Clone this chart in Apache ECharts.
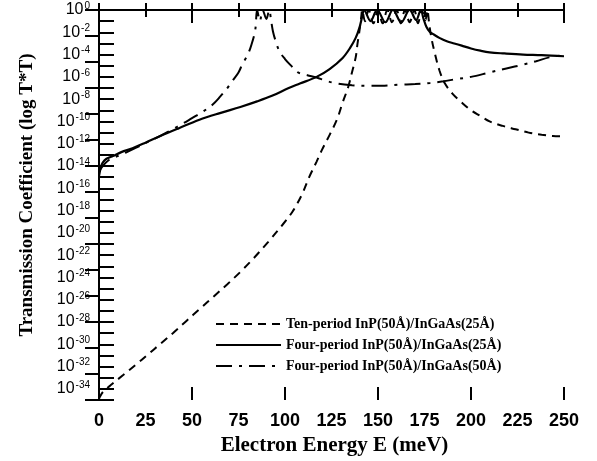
<!DOCTYPE html>
<html><head><meta charset="utf-8">
<script src="https://cdn.jsdelivr.net/npm/echarts@6/dist/echarts.min.js"></script>
<style>html,body{margin:0;padding:0;background:#fff}#c{width:597px;height:461px}</style>
</head><body><div id="c"></div>
<script>
// Energies (meV) and log10(T*T) values
const tenE = [0, 0.5, 2, 6, 13, 20, 26, 33, 40, 47, 54, 62, 69, 76, 83, 91, 99, 104, 109, 113, 117, 120, 124, 128, 131, 134, 136, 138, 139, 140, 141, 141.5, 143, 145, 147.5, 150, 152.5, 155, 157.5, 160, 162.3, 164.5, 167, 169.5, 171.5, 173.5, 175.5, 176.5, 177.5, 178.5, 180, 183, 186, 190, 195, 200, 205, 210, 217, 224, 231, 238, 244, 250];
const tenT = [-34.9, -34.7, -34.3, -33.7, -32.75, -31.8, -30.95, -29.95, -28.95, -27.9, -26.85, -25.65, -24.6, -23.5, -22.3, -20.8, -19.2, -18.1, -16.6, -15.0, -13.6, -12.5, -11.2, -9.8, -8.3, -6.9, -5.6, -4.25, -3.0, -1.9, -0.6, 0, -1.0, 0, -1.2, -0.05, -1.2, 0, -1.1, 0, -1.2, 0, -1.1, 0, -1.2, 0, -0.9, 0, -1.2, -2.3, -3.5, -5.4, -6.6, -7.5, -8.3, -9.0, -9.5, -10.0, -10.4, -10.7, -11.0, -11.2, -11.3, -11.35];

const four25E = [0, 1, 2, 4, 7.5, 12, 18, 25, 33, 43, 54, 65, 76, 85, 93, 102, 108, 117, 124, 131, 135, 138, 140, 141.5, 142.5, 146, 149.5, 154, 158, 162.5, 167, 170.5, 173, 174.5, 176, 178, 180, 183, 187, 191, 195, 200, 205, 210, 218, 228, 238, 250];
const four25T = [-14.9, -14.1, -13.7, -13.35, -13.1, -12.75, -12.4, -11.9, -11.3, -10.6, -9.85, -9.25, -8.7, -8.2, -7.7, -7.0, -6.6, -6.0, -5.3, -4.3, -3.4, -2.5, -1.6, -0.6, 0, -1.0, 0, -1.1, 0, -1.1, 0, -0.9, 0, -0.8, -1.5, -2.0, -2.2, -2.5, -2.8, -3.0, -3.2, -3.45, -3.65, -3.8, -3.9, -4.0, -4.05, -4.15];

const four50E = [0, 2, 5, 10, 15, 20, 26, 33, 39, 45, 50, 56, 61, 65, 69, 72, 75, 77, 80, 82, 84, 85, 86.5, 88, 90, 91.5, 92.5, 93.5, 95, 97, 100, 103, 107, 112, 117, 122, 128, 136, 144, 152, 161, 170, 178, 185, 192, 200, 210, 219, 228, 235, 242, 250];
const four50T = [-14.5, -14.0, -13.5, -13.1, -12.75, -12.35, -11.85, -11.3, -10.75, -10.2, -9.7, -9.1, -8.5, -7.8, -7.0, -6.3, -5.6, -4.9, -4.0, -3.1, -1.8, 0, -1.0, 0, -0.8, 0, -0.9, -1.9, -2.8, -3.7, -4.4, -4.95, -5.6, -5.85, -6.05, -6.35, -6.6, -6.75, -6.8, -6.8, -6.7, -6.65, -6.55, -6.4, -6.2, -6.0, -5.6, -5.25, -4.9, -4.6, -4.25, -4.05];

const seriesNames = ['Ten-period InP(50Å)/InGaAs(25Å)', 'Four-period InP(50Å)/InGaAs(25Å)', 'Four-period InP(50Å)/InGaAs(50Å)'];
const xTickLabels = [0, 25, 50, 75, 100, 125, 150, 175, 200, 225, 250];

const pairs = (xs, ys) => xs.map((x, i) => [x, ys[i]]);

const chart = echarts.init(document.getElementById('c'), null, {renderer: 'canvas'});
const axisLine = {show: true, lineStyle: {color: '#000', width: 2}};
const xBase = {type: 'value', min: 0, max: 250, splitLine: {show: false}, axisLine: axisLine};
chart.setOption({
  animation: false,
  backgroundColor: '#fff',
  grid: {left: 99, right: 33, top: 10, bottom: 55, containLabel: false},
  xAxis: [
    Object.assign({}, xBase, {position: 'bottom', interval: 25,
      axisTick: {inside: true, length: 7, lineStyle: {color: '#000', width: 2}},
      axisLabel: {color: '#000', fontFamily: 'Liberation Sans', fontWeight: 'bold', fontSize: 18, margin: 12,
        formatter: v => xTickLabels.indexOf(v) >= 0 ? String(v) : ''},
      name: 'Electron Energy E (meV)', nameLocation: 'middle', nameGap: 33,
      nameTextStyle: {color: '#000', fontFamily: 'Liberation Serif', fontWeight: 'bold', fontSize: 21, padding: [0, 0, 0, 6]}}),
    Object.assign({}, xBase, {position: 'bottom', interval: 50, axisLine: {show: false},
      axisTick: {inside: true, length: 13, lineStyle: {color: '#000', width: 2}}, axisLabel: {show: false}}),
    Object.assign({}, xBase, {position: 'top', interval: 25,
      axisTick: {inside: true, length: 7, lineStyle: {color: '#000', width: 2}}, axisLabel: {show: false}}),
    Object.assign({}, xBase, {position: 'top', interval: 50, axisLine: {show: false},
      axisTick: {inside: true, length: 13, lineStyle: {color: '#000', width: 2}}, axisLabel: {show: false}})
  ],
  yAxis: [
    {type: 'value', min: -35, max: 0, interval: 1, position: 'left', splitLine: {show: false},
      axisLine: axisLine,
      axisTick: {inside: true, length: 15, lineStyle: {color: '#000', width: 2}},
      axisLabel: {margin: 9, color: '#000',
        formatter: v => (v % 2 === 0) ? '{m|10}{s|' + (v === 0 ? '0' : '-' + (-v)) + '}' : '',
        rich: {m: {fontSize: 16, fontFamily: 'Liberation Sans', color: '#000', lineHeight: 18},
               s: {fontSize: 10, fontFamily: 'Liberation Sans', color: '#000', verticalAlign: 'top', lineHeight: 10, padding: [0, 0, 0, 1]}}},
      name: 'Transmission Coefficient (log T*T)', nameLocation: 'middle', nameGap: 62, nameRotate: 90,
      nameTextStyle: {color: '#000', fontFamily: 'Liberation Serif', fontWeight: 'bold', fontSize: 19, padding: [0, 0, 0, 20]}},
    {type: 'value', min: 0, max: 15, interval: 1, position: 'right', splitLine: {show: false},
      axisLine: axisLine,
      axisTick: {inside: true, length: 14, lineStyle: {color: '#000', width: 2}},
      axisLabel: {show: false}}
  ],
  legend: {
    orient: 'vertical', left: 210, top: 312, itemWidth: 65, itemHeight: 12, itemGap: 7,
    data: seriesNames,
    itemStyle: {opacity: 0},
    textStyle: {color: '#000', fontFamily: 'Liberation Serif', fontWeight: 'bold', fontSize: 14}
  },
  series: [
    {name: seriesNames[0], type: 'line', xAxisIndex: 0, yAxisIndex: 0, symbol: 'none', smooth: 0.35,
      data: pairs(tenE, tenT), lineStyle: {color: '#000', width: 2, type: [8, 6]}, itemStyle: {color: '#000'}},
    {name: seriesNames[1], type: 'line', xAxisIndex: 0, yAxisIndex: 0, symbol: 'none', smooth: 0.35,
      data: pairs(four25E, four25T), lineStyle: {color: '#000', width: 2.2, type: 'solid'}, itemStyle: {color: '#000'}},
    {name: seriesNames[2], type: 'line', xAxisIndex: 0, yAxisIndex: 0, symbol: 'none', smooth: 0.35,
      data: pairs(four50E, four50T), lineStyle: {color: '#000', width: 2, type: [16, 7, 3, 7]}, itemStyle: {color: '#000'}}
  ]
});
</script></body></html>
